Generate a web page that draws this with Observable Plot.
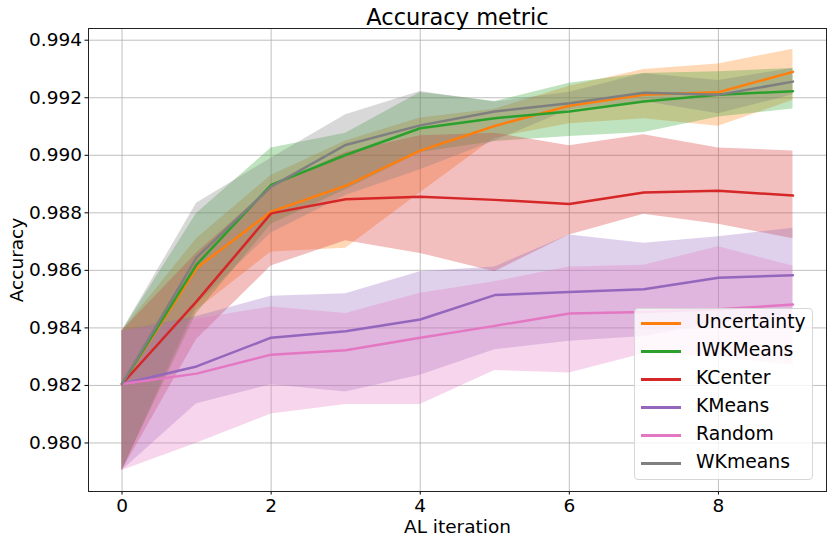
<!DOCTYPE html>
<html>
<head>
<meta charset="utf-8">
<script src="https://cdn.jsdelivr.net/npm/d3@7"></script>
<script src="https://cdn.jsdelivr.net/npm/@observablehq/plot@0.6"></script>
<style>
  html, body { margin: 0; padding: 0; background: #fff; }
  #wrap { position: relative; width: 830px; height: 543px; font-family: "DejaVu Sans", sans-serif; }
  #legend { position: absolute; left: 634px; top: 308px; width: 179px; height: 172px;
            background: rgba(255,255,255,0.8); border: 1px solid #d6d6d6; border-radius: 4px; box-sizing: border-box; }
  .item { position: absolute; left: 0; height: 28px; width: 100%; }
  .item .sw { position: absolute; left: 6px; top: 13px; width: 40px; height: 2.5px; }
  .item .lb { position: absolute; left: 61px; top: 1px; font-size: 18.8px; line-height: 24px; color: #000; white-space: nowrap; }
</style>
</head>
<body>
<div id="wrap"><div id="chart"></div><div id="legend"></div></div>
<script>
const iterations = [0, 1, 2, 3, 4, 5, 6, 7, 8, 9];
const seriesNames = ["Uncertainty", "IWKMeans", "KCenter", "KMeans", "Random", "WKmeans"];
const seriesColors = ["#ff7f0e", "#2ca02c", "#d62728", "#9467bd", "#e377c2", "#7f7f7f"];
const yTicks = [0.980, 0.982, 0.984, 0.986, 0.988, 0.990, 0.992, 0.994];
const xTicks = [0, 2, 4, 6, 8];

const uncertaintyMean = [0.98205, 0.98608, 0.98804, 0.98894, 0.99016, 0.99102, 0.99172, 0.99210, 0.99219, 0.99290];
const uncertaintyLo   = [0.97904, 0.98461, 0.98664, 0.98677, 0.98870, 0.99060, 0.99110, 0.99127, 0.99101, 0.99191];
const uncertaintyHi   = [0.98389, 0.98710, 0.98930, 0.99050, 0.99130, 0.99160, 0.99240, 0.99298, 0.99317, 0.99369];

const iwkmeansMean = [0.98205, 0.98620, 0.98897, 0.99001, 0.99094, 0.99129, 0.99152, 0.99187, 0.99210, 0.99223];
const iwkmeansLo   = [0.97904, 0.98450, 0.98760, 0.98880, 0.99010, 0.99048, 0.99065, 0.99079, 0.99133, 0.99161];
const iwkmeansHi   = [0.98389, 0.98798, 0.99025, 0.99077, 0.99218, 0.99187, 0.99250, 0.99284, 0.99290, 0.99302];

const kcenterMean = [0.98205, 0.98492, 0.98798, 0.98847, 0.98856, 0.98845, 0.98831, 0.98871, 0.98877, 0.98860];
const kcenterLo   = [0.97904, 0.98360, 0.98615, 0.98703, 0.98659, 0.98595, 0.98723, 0.98795, 0.98760, 0.98710];
const kcenterHi   = [0.98389, 0.98660, 0.98890, 0.99010, 0.99068, 0.99077, 0.99033, 0.99071, 0.99025, 0.99015];

const kmeansMean = [0.98205, 0.98266, 0.98366, 0.98388, 0.98429, 0.98514, 0.98525, 0.98534, 0.98574, 0.98583];
const kmeansLo   = [0.97904, 0.98136, 0.98202, 0.98177, 0.98235, 0.98324, 0.98354, 0.98370, 0.98420, 0.98430];
const kmeansHi   = [0.98389, 0.98440, 0.98510, 0.98519, 0.98595, 0.98612, 0.98723, 0.98694, 0.98717, 0.98746];

const randomMean = [0.98205, 0.98241, 0.98307, 0.98322, 0.98366, 0.98407, 0.98450, 0.98455, 0.98465, 0.98481];
const randomLo   = [0.97904, 0.97999, 0.98101, 0.98134, 0.98134, 0.98252, 0.98243, 0.98310, 0.98300, 0.98270];
const randomHi   = [0.98389, 0.98430, 0.98473, 0.98450, 0.98520, 0.98560, 0.98612, 0.98618, 0.98682, 0.98615];

const wkmeansMean = [0.98205, 0.98645, 0.98891, 0.99036, 0.99104, 0.99152, 0.99181, 0.99217, 0.99210, 0.99256];
const wkmeansLo   = [0.97904, 0.98480, 0.98730, 0.98860, 0.98950, 0.99050, 0.99158, 0.99187, 0.99144, 0.99210];
const wkmeansHi   = [0.98389, 0.98833, 0.98990, 0.99141, 0.99222, 0.99185, 0.99219, 0.99284, 0.99260, 0.99302];

const seriesData = [
  [uncertaintyMean, uncertaintyLo, uncertaintyHi],
  [iwkmeansMean, iwkmeansLo, iwkmeansHi],
  [kcenterMean, kcenterLo, kcenterHi],
  [kmeansMean, kmeansLo, kmeansHi],
  [randomMean, randomLo, randomHi],
  [wkmeansMean, wkmeansLo, wkmeansHi]
];

const rows = [];
seriesNames.forEach((name, si) => {
  const [m, lo, hi] = seriesData[si];
  iterations.forEach((it, i) => rows.push({series: name, iter: it, mean: m[i], lo: lo[i], hi: hi[i]}));
});

const colorScale = {domain: seriesNames, range: seriesColors};

const marks = [
  Plot.gridY(yTicks, {stroke: "#b0b0b0", strokeOpacity: 1, strokeWidth: 0.8}),
  Plot.gridX(xTicks, {stroke: "#b0b0b0", strokeOpacity: 1, strokeWidth: 0.8}),
];
seriesNames.forEach(name => {
  const d = rows.filter(r => r.series === name);
  marks.push(Plot.areaY(d, {x: "iter", y1: "lo", y2: "hi", fill: "series", fillOpacity: 0.3}));
});
seriesNames.forEach(name => {
  const d = rows.filter(r => r.series === name);
  marks.push(Plot.lineY(d, {x: "iter", y: "mean", stroke: "series", strokeWidth: 2.5}));
});
marks.push(
  Plot.axisX({ticks: xTicks, tickSize: 3.5, tickPadding: 4, label: "AL iteration", labelAnchor: "center", labelArrow: "none", labelOffset: 41, tickFormat: d => String(d)}),
  Plot.axisY({ticks: yTicks, tickSize: 3.5, tickPadding: 3, tickFormat: d3.format(".3f"), label: "Accuracy", labelAnchor: "center", labelArrow: "none", labelOffset: 79}),
  Plot.frame({stroke: "#222", strokeWidth: 1}),
  Plot.text(["Accuracy metric"], {frameAnchor: "top", lineAnchor: "bottom", dy: -4, fontSize: 22.5, fill: "#000"})
);

const chart = Plot.plot({
  width: 830,
  height: 543,
  marginLeft: 88,
  marginRight: 4,
  marginTop: 28,
  marginBottom: 52,
  x: {domain: [-0.45, 9.45]},
  y: {domain: [0.978313, 0.994407]},
  color: colorScale,
  style: {fontSize: "18.5px", fontFamily: "DejaVu Sans", color: "#000", background: "#fff", overflow: "visible"},
  marks
});
document.getElementById("chart").appendChild(chart);

const legend = document.getElementById("legend");
seriesNames.forEach((name, i) => {
  const it = document.createElement("div");
  it.className = "item";
  it.style.top = (i * 28) + "px";
  it.innerHTML = `<div class="sw" style="background:${seriesColors[i]}"></div><div class="lb">${name}</div>`;
  legend.appendChild(it);
});
</script>
</body>
</html>
